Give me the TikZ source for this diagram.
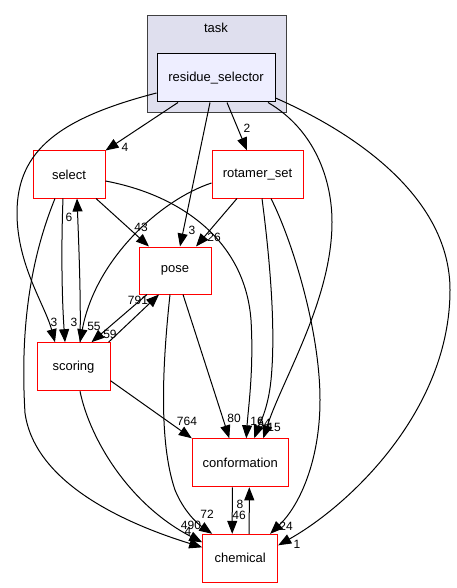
\documentclass[tikz,border=0pt]{standalone}
\usepackage{fontspec}
\setmainfont{Liberation Sans}
\usetikzlibrary{arrows.meta}
\definecolor{clusterfill}{RGB}{223,223,238}
\definecolor{clusterline}{RGB}{64,64,64}
\definecolor{mainfill}{RGB}{238,238,255}
\begin{document}
\begin{tikzpicture}[x=1pt,y=-1pt,
  dirbox/.style={draw=red,line width=1pt,fill=white,inner sep=0pt,font=\fontsize{13}{15}\selectfont},
  mainbox/.style={draw=black,line width=1pt,fill=mainfill,inner sep=0pt,font=\fontsize{13}{15}\selectfont},
  dep/.style={draw=black,line width=1pt,-{Triangle[length=13pt,width=10pt]}},
  lbl/.style={font=\fontsize{12}{14}\selectfont,inner sep=0pt}]
\useasboundingbox (0,0) rectangle (457,588);
\fill[white] (0,0) rectangle (457,588);
% cluster
\draw[clusterline,fill=clusterfill,line width=1pt] (147,16) rectangle (286,113);
\node[font=\fontsize{13}{15}\selectfont] (tasklbl) at (216,28) {task};
% nodes
\node[mainbox,minimum width=118pt,minimum height=48pt] (res) at (216,78) {residue\_selector};
\node[dirbox,minimum width=72pt,minimum height=47pt] (select) at (69,174.5) {select};
\node[dirbox,minimum width=91pt,minimum height=47pt] (rot) at (257.5,174.5) {rotamer\_set};
\node[dirbox,minimum width=72pt,minimum height=47pt] (pose) at (175,270.5) {pose};
\node[dirbox,minimum width=73pt,minimum height=48pt] (scoring) at (73.5,366.7) {scoring};
\node[dirbox,minimum width=96pt,minimum height=48pt] (conf) at (240.3,462.8) {conformation};
\node[dirbox,minimum width=75pt,minimum height=48pt] (chem) at (240.2,558.3) {chemical};
% edges from residue_selector
\draw[dep] ([xshift=-38pt]res.south) -- (select.north east);
\draw[dep] ([yshift=-15pt]res.west) .. controls (60,118) and (17,150) .. (17,213) .. controls (17,265) and (45,305) .. ([xshift=-18.5pt]scoring.north);
\draw[dep] ([xshift=-6pt]res.south) -- ([xshift=5pt]pose.north);
\draw[dep] ([xshift=11pt]res.south) -- ([xshift=-10.5pt]rot.north);
\draw[dep] ([xshift=52pt]res.south) .. controls (315,130) and (332,180) .. (332,222) .. controls (332,300) and (282,380) .. ([xshift=23pt]conf.north);
\draw[dep] ([yshift=-20pt]res.east) .. controls (360,135) and (450,200) .. (450,290) .. controls (450,410) and (350,505) .. ([yshift=13pt]chem.east);
% select
\draw[dep] ([xshift=-6pt]select.south) .. controls (61,250) and (62,300) .. ([xshift=-8.5pt]scoring.north);
\draw[dep] ([xshift=6.5pt]scoring.north) .. controls (81,300) and (79,250) .. ([xshift=8pt]select.south);
\draw[dep] ([xshift=27pt]select.south) -- ([xshift=-26pt]pose.north);
\draw[dep] ([yshift=-6.5pt]select.east) .. controls (180,195) and (245,240) .. (251,320) .. controls (254,370) and (248,410) .. ([xshift=6pt]conf.north);
\draw[dep] ([xshift=-14pt]select.south) .. controls (30,260) and (20,330) .. (25,413) .. controls (35,485) and (130,525) .. ([yshift=11pt]chem.west);
% rotamer_set
\draw[dep] ([xshift=-20.5pt]rot.south) -- ([xshift=21pt]pose.north);
\draw[dep] ([yshift=-8.5pt]rot.west) .. controls (160,200) and (95,260) .. ([xshift=6.5pt]scoring.north);
\draw[dep] ([xshift=4.5pt]rot.south) .. controls (270,260) and (276,330) .. (271,380) .. controls (268,410) and (259,425) .. ([xshift=14pt]conf.north);
\draw[dep] ([xshift=13.5pt]rot.south) .. controls (292,240) and (320,330) .. (320,400) .. controls (320,460) and (300,505) .. ([xshift=30pt]chem.north);
% pose
\draw[dep] ([xshift=-28pt]pose.south) -- ([xshift=18pt]scoring.north);
\draw[dep] ([xshift=-2pt]scoring.north east) -- ([xshift=-16pt]pose.south);
\draw[dep] ([xshift=8pt]pose.south) -- ([xshift=-11pt]conf.north);
\draw[dep] ([xshift=-5pt]pose.south) .. controls (163,360) and (158,440) .. (175,490) .. controls (184,512) and (198,524) .. ([xshift=-28pt]chem.north);
% scoring
\draw[dep] ([yshift=-14pt]scoring.east) -- (conf.north west);
\draw[dep] ([xshift=6.5pt]scoring.south) .. controls (90,440) and (130,505) .. ([yshift=16pt]chem.west);
% conformation / chemical
\draw[dep] ([xshift=-8pt]conf.south) -- ([xshift=-8pt]chem.north);
\draw[dep] ([xshift=9pt]chem.north) -- ([xshift=9pt]conf.south);
% labels
\node[lbl] (l1) at (125,147) {4};
\node[lbl] (l2) at (247,128) {2};
\node[lbl] (l3) at (192,230) {3};
\node[lbl] (l4) at (54,322) {3};
\node[lbl] (l5) at (74,322) {3};
\node[lbl] (l6) at (69,217) {6};
\node[lbl] (l7) at (94,326) {55};
\node[lbl] (l8) at (110,334) {59};
\node[lbl] (l9) at (138,300) {791};
\node[lbl] (l10) at (141,227) {43};
\node[lbl] (l11) at (214,237) {26};
\node[lbl] (l12) at (187,421) {764};
\node[lbl] (l13) at (234,418) {80};
\node[lbl] (l14) at (257,421) {16};
\node[lbl] (l15) at (264,423) {54};
\node[lbl] (l16) at (274,427) {15};
\node[lbl] (l17) at (207,514) {72};
\node[lbl] (l18) at (191,525) {490};
\node[lbl] (l19) at (188,531) {4};
\node[lbl] (l20) at (239,515) {46};
\node[lbl] (l21) at (240,504) {8};
\node[lbl] (l22) at (286,526) {24};
\node[lbl] (l23) at (297,544) {1};
\end{tikzpicture}
\end{document}
